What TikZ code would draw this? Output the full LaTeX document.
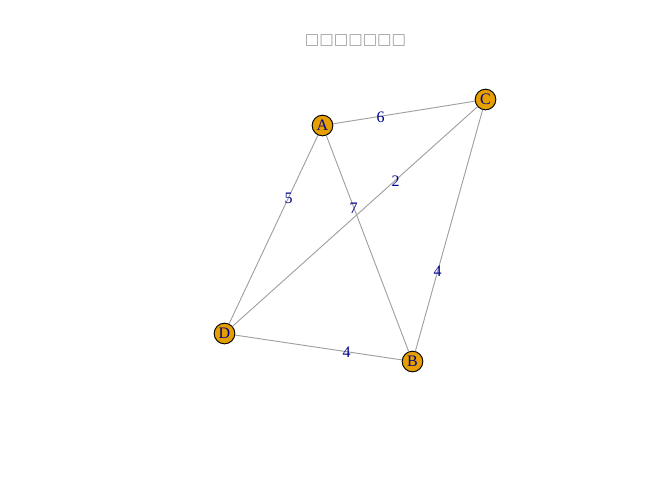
\documentclass[tikz,border=0pt]{standalone}
\usepackage{fontspec}
\setmainfont{Liberation Serif}
\newfontfamily\boxfont{DejaVu Sans}
\definecolor{vfill}{HTML}{E69F00}
\definecolor{elab}{HTML}{00008B}
\definecolor{edgec}{HTML}{A0A0A0}
\definecolor{titlec}{HTML}{A0A0A0}
\begin{document}
\begin{tikzpicture}[x=0.75pt,y=-0.75pt,
  vtx/.style={circle,draw=black,line width=0.7pt,fill=vfill,minimum size=15.5pt,inner sep=0pt,text=elab,font=\fontsize{12}{14}\selectfont},
  edge/.style={draw=edgec,line width=0.7pt},
  elabel/.style={text=elab,font=\fontsize{12}{14}\selectfont,inner sep=0pt}]
\useasboundingbox (0,0) rectangle (672,480);
\node[text=titlec,font=\boxfont\fontsize{11.5}{14}\selectfont] (title) at (355.5,40.5) {□□□□□□□};
\coordinate (pA) at (322.5,125.5);
\coordinate (pC) at (485.5,99.5);
\coordinate (pD) at (224.5,333.5);
\coordinate (pB) at (412.5,361.5);
\node[vtx] (A) at (pA) {A};
\node[vtx] (C) at (pC) {C};
\node[vtx] (D) at (pD) {D};
\node[vtx] (B) at (pB) {B};
\path[edge] (A) -- (C);
\path[edge] (A) -- (D);
\path[edge] (A) -- (B);
\path[edge] (C) -- (D);
\path[edge] (C) -- (B);
\path[edge] (D) -- (B);
\node[elabel] (l6) at (380.5,117.5) {6};
\node[elabel] (l5) at (288.5,198.5) {5};
\node[elabel] (l7) at (353.5,208.5) {7};
\node[elabel] (l2) at (395.5,181.5) {2};
\node[elabel] (l4a) at (437.5,271.5) {4};
\node[elabel] (l4b) at (346.5,352.5) {4};
\end{tikzpicture}
\end{document}
